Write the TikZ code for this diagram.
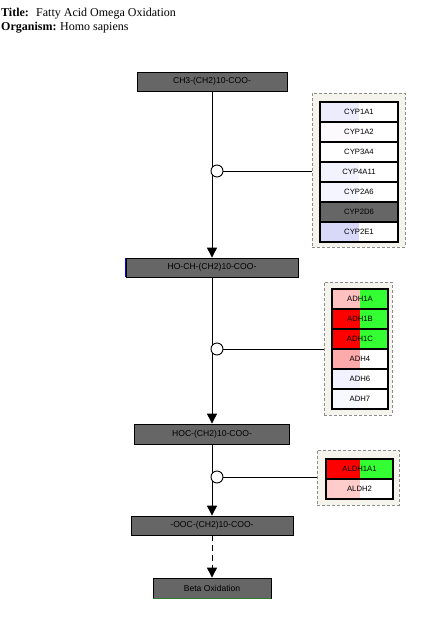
\documentclass[tikz,border=0pt]{standalone}
\usepackage{fontspec}
\setmainfont{Liberation Serif}
\newfontfamily\arialfont{Liberation Sans}
\usetikzlibrary{arrows.meta}

\definecolor{metabfill}{HTML}{666666}
\definecolor{groupfill}{HTML}{F4F4EC}
\definecolor{groupline}{HTML}{8C8C8C}
\definecolor{lavA}{HTML}{ECECFD}
\definecolor{lavB}{HTML}{FCFAFD}
\definecolor{lavC}{HTML}{F3F3FE}
\definecolor{lavD}{HTML}{F5F5FF}
\definecolor{lavE}{HTML}{D8D8F8}
\definecolor{lavF}{HTML}{F1F1FF}
\definecolor{lavG}{HTML}{F8F8FF}
\definecolor{pinkA}{HTML}{FFC0C0}
\definecolor{pinkB}{HTML}{FFAAAA}
\definecolor{pinkC}{HTML}{FFCCCC}
\definecolor{upred}{HTML}{FF0000}
\definecolor{upgreen}{HTML}{33FF33}
\definecolor{edgegreen}{HTML}{2E7D2E}

\tikzset{
  metab/.style={draw=black, line width=0.8pt, fill=metabfill, inner sep=0pt,
    minimum height=19pt, font=\arialfont\fontsize{8.6}{10}\selectfont},
  gene/.style 2 args={draw=black, line width=1.2pt, inner sep=0pt,
    minimum height=20pt, font=\arialfont\fontsize{7.7}{9}\selectfont,
    path picture={
      \fill[#1] (path picture bounding box.south west) rectangle (path picture bounding box.north);
      \fill[#2] (path picture bounding box.south) rectangle (path picture bounding box.north east);
    }},
  group/.style={draw=groupline, fill=groupfill, dash pattern=on 3pt off 2pt,
    line width=0.8pt, inner sep=0pt},
  anchorpt/.style={circle, draw=black, fill=white, line width=0.9pt,
    minimum size=12pt, inner sep=0pt},
  flow/.style={line width=0.9pt, -{Triangle[width=10pt,length=10pt]}},
  link/.style={line width=0.9pt},
  hdr/.style={anchor=base west, inner sep=0pt, font=\fontsize{12}{14}\selectfont}
}

\begin{document}
\begin{tikzpicture}[x=1pt, y=-1pt]
\useasboundingbox[fill=white] (0,0) rectangle (435,627);

% header
\node[hdr, font=\bfseries\fontsize{12}{14}\selectfont] (tlab) at (1,16.5) {Title:};
\node[hdr] (tval) at (36,16.5) {Fatty Acid Omega Oxidation};
\node[hdr, font=\bfseries\fontsize{12}{14}\selectfont] (olab) at (1,30.5) {Organism:};
\node[hdr] (oval) at (60,30.5) {Homo sapiens};

% metabolites
\node[metab, minimum width=150pt] (m1) at (212,81.5) {CH3-(CH2)10-COO-};
\node[metab, minimum width=172pt] (m2) at (212,267.5) {HO-CH-(CH2)10-COO-};
\node[metab, minimum width=155pt, minimum height=20pt] (m3) at (212,434) {HOC-(CH2)10-COO-};
\node[metab, minimum width=162pt] (m4) at (212,525.5) {-OOC-(CH2)10-COO-};
\node[metab, minimum width=118pt, minimum height=20pt] (m5) at (212,588) {Beta Oxidation};
\draw[blue, line width=1.2pt] (m2.south west) -- (m2.north west);
\draw[edgegreen, line width=0.6pt] (m5.south west) -- (m5.south east);

% reaction steps
\draw[flow] (m1.south) -- (m2.north);
\draw[flow] (m2.south) -- (m3.north);
\draw[flow] (m3.south) -- (m4.north);
\draw[flow, dash pattern=on 6pt off 4pt] (m4.south) -- (m5.north);

% enzyme groups
\node[group, minimum width=93pt, minimum height=154pt] (g1) at (358.5,170) {};
\node[group, minimum width=68pt, minimum height=133pt] (g2) at (358,348.5) {};
\node[group, minimum width=82pt, minimum height=55pt] (g3) at (358,477.5) {};

% cytochrome P450 genes
\node[gene={lavA}{white}, minimum width=78pt] (cyp1) at (359,112) {CYP1A1};
\node[gene={lavB}{white}, minimum width=78pt] (cyp2) at (359,132) {CYP1A2};
\node[gene={white}{white}, minimum width=78pt] (cyp3) at (359,152) {CYP3A4};
\node[gene={lavC}{white}, minimum width=78pt] (cyp4) at (359,172) {CYP4A11};
\node[gene={lavD}{white}, minimum width=78pt] (cyp5) at (359,192) {CYP2A6};
\node[gene={metabfill}{metabfill}, minimum width=78pt] (cyp6) at (359,212) {CYP2D6};
\node[gene={lavE}{white}, minimum width=78pt] (cyp7) at (359,232) {CYP2E1};

% alcohol dehydrogenase genes
\node[gene={pinkA}{upgreen}, minimum width=56pt] (adh1) at (360,299) {ADH1A};
\node[gene={upred}{upgreen}, minimum width=56pt] (adh2) at (360,319) {ADH1B};
\node[gene={upred}{upgreen}, minimum width=56pt] (adh3) at (360,339) {ADH1C};
\node[gene={pinkB}{white}, minimum width=56pt] (adh4) at (360,359) {ADH4};
\node[gene={lavF}{white}, minimum width=56pt] (adh5) at (360,379) {ADH6};
\node[gene={lavG}{white}, minimum width=56pt] (adh6) at (360,399) {ADH7};

% aldehyde dehydrogenase genes
\node[gene={upred}{upgreen}, minimum width=67pt] (aldh1) at (359.5,469) {ALDH1A1};
\node[gene={pinkC}{white}, minimum width=67pt] (aldh2) at (359.5,489) {ALDH2};

% catalysis anchors on the main line
\node[anchorpt] (c1) at (217,171) {};
\node[anchorpt] (c2) at (217,349) {};
\node[anchorpt] (c3) at (217,477) {};
\draw[link] (c1.east) -- (c1.east -| g1.west);
\draw[link] (c2.east) -- (c2.east -| g2.west);
\draw[link] (c3.east) -- (c3.east -| g3.west);
\end{tikzpicture}
\end{document}
